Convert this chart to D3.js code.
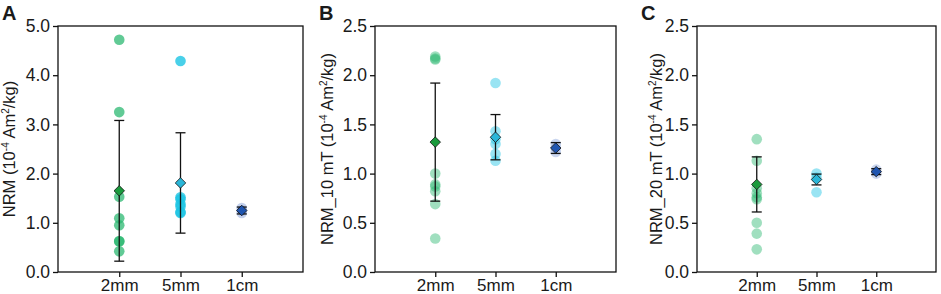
<!DOCTYPE html>
<html>
<head>
<meta charset="utf-8">
<script src="https://cdn.jsdelivr.net/npm/d3@7"></script>
<style>
  body { margin: 0; background: #fff; }
  text { font-family: "Liberation Sans", Arial, sans-serif; fill: #1a1a1a; }
</style>
</head>
<body>
<svg id="chart" width="941" height="294"></svg>
<script>
// categories (sample size)
var categories = ["2mm", "5mm", "1cm"];

// panel A : NRM
var nrm2mm = [4.72, 3.25, 1.53, 1.09, 0.95, 0.63, 0.62, 0.42];
var nrm5mm = [4.29, 1.52, 1.48, 1.38, 1.33, 1.22, 1.20];
var nrm1cm = [1.30, 1.25, 1.20];
var nrmMean = [1.65, 1.81, 1.25];
var nrmErr = [1.43, 1.02, 0.07];

// panel B : NRM after 10 mT
var b2mm = [2.19, 2.16, 2.17, 1.00, 0.89, 0.87, 0.82, 0.69, 0.34];
var b5mm = [1.92, 1.43, 1.35, 1.30, 1.20, 1.13];
var b1cm = [1.30, 1.26, 1.22];
var bMean = [1.32, 1.37, 1.26];
var bErr = [0.60, 0.23, 0.055];

// panel C : NRM after 20 mT
var c2mm = [1.35, 1.13, 0.85, 0.80, 0.76, 0.74, 0.50, 0.39, 0.23];
var c5mm = [1.00, 0.96, 0.81];
var c1cm = [1.04, 1.00];
var cMean = [0.89, 0.94, 1.02];
var cErr = [0.28, 0.055, 0.03];

var yTicksA = [0, 1, 2, 3, 4, 5];
var yTicksBC = [0, 0.5, 1.0, 1.5, 2.0, 2.5];

var pointColors = ["#2cb872", "#1cc4e4", "#8aa4dc"];
var meanColors = ["#1a9a3c", "#2ab6d8", "#1f55b0"];

var svg = d3.select("#chart");
var plotTop = 26, plotBottom = 272;

var panels = [
    { letter: "A", left: 58, right: 303, max: 5, ticks: yTicksA, pts: [nrm2mm, nrm5mm, nrm1cm], mean: nrmMean, err: nrmErr,
      title: "NRM", titleX: 15, alpha: [0.75, 0.8, 0.5] },
    { letter: "B", left: 375, right: 616, max: 2.5, ticks: yTicksBC, pts: [b2mm, b5mm, b1cm], mean: bMean, err: bErr,
      title: "NRM_10 mT", titleX: 333, alpha: [0.45, 0.45, 0.45] },
    { letter: "C", left: 697, right: 936, max: 2.5, ticks: yTicksBC, pts: [c2mm, c5mm, c1cm], mean: cMean, err: cErr,
      title: "NRM_20 mT", titleX: 662, alpha: [0.45, 0.45, 0.45] }
];

panels.forEach(function(p) {
    var x = d3.scalePoint().domain(categories).range([p.left, p.right]).padding(1);
    var y = d3.scaleLinear().domain([0, p.max]).range([plotBottom, plotTop]);
    var g = svg.append("g");

    // box
    g.append("rect")
        .attr("x", p.left).attr("y", plotTop)
        .attr("width", p.right - p.left).attr("height", plotBottom - plotTop)
        .attr("fill", "none").attr("stroke", "#111").attr("stroke-width", 1.3);

    g.append("g")
        .attr("transform", `translate(${p.left},0)`)
        .call(d3.axisLeft(y).tickValues(p.ticks).tickFormat(d3.format(".1f")).tickSize(5).tickPadding(3))
        .call(a => a.select(".domain").remove())
        .call(a => a.selectAll(".tick line").attr("stroke", "#111").attr("stroke-width", 1.3))
        .call(a => a.selectAll(".tick text").attr("font-size", 17.5).attr("font-family", "Liberation Sans, Arial, sans-serif").attr("fill", "#1a1a1a"));

    g.append("g")
        .attr("transform", `translate(0,${plotBottom})`)
        .call(d3.axisBottom(x).tickSize(5).tickPadding(2))
        .call(a => a.select(".domain").remove())
        .call(a => a.selectAll(".tick line").attr("stroke", "#111").attr("stroke-width", 1.3))
        .call(a => a.selectAll(".tick text").attr("font-size", 17).attr("font-family", "Liberation Sans, Arial, sans-serif").attr("fill", "#1a1a1a"));

    // individual samples
    categories.forEach(function(c, i) {
        g.selectAll(".pt" + i)
            .data(p.pts[i])
            .enter()
            .append("circle")
            .attr("cx", x(c))
            .attr("cy", d => y(d))
            .attr("r", 5.3)
            .attr("fill", pointColors[i])
            .attr("fill-opacity", p.alpha[i]);
    });

    // error bars
    var eb = g.selectAll(".eb")
        .data(categories)
        .enter()
        .append("g")
        .attr("stroke", "#111")
        .attr("stroke-width", 1.3);
    eb.append("line")
        .attr("x1", d => x(d)).attr("x2", d => x(d))
        .attr("y1", (d, i) => y(p.mean[i] + p.err[i]))
        .attr("y2", (d, i) => y(p.mean[i] - p.err[i]));
    eb.append("line")
        .attr("x1", d => x(d) - 5).attr("x2", d => x(d) + 5)
        .attr("y1", (d, i) => y(p.mean[i] + p.err[i]))
        .attr("y2", (d, i) => y(p.mean[i] + p.err[i]));
    eb.append("line")
        .attr("x1", d => x(d) - 5).attr("x2", d => x(d) + 5)
        .attr("y1", (d, i) => y(p.mean[i] - p.err[i]))
        .attr("y2", (d, i) => y(p.mean[i] - p.err[i]));

    // mean markers
    g.selectAll(".mean")
        .data(categories)
        .enter()
        .append("path")
        .attr("d", d3.symbol().type(d3.symbolDiamond2).size(70))
        .attr("transform", (d, i) => `translate(${x(d)},${y(p.mean[i])})`)
        .attr("fill", (d, i) => meanColors[i])
        .attr("stroke", "#111")
        .attr("stroke-width", 0.8);

    // panel letter
    svg.append("text")
        .attr("x", p.left - 56)
        .attr("y", 20)
        .attr("font-size", 20)
        .attr("font-weight", "bold")
        .text(p.letter);

    // y title
    var t = svg.append("text")
        .attr("transform", `translate(${p.titleX},${(plotTop + plotBottom) / 2}) rotate(-90)`)
        .attr("text-anchor", "middle")
        .attr("font-size", 16.5);
    t.append("tspan").text(p.title + " (10");
    t.append("tspan").attr("font-size", 10).attr("dy", -6).text("-4");
    t.append("tspan").attr("dy", 6).text(" Am");
    t.append("tspan").attr("font-size", 10).attr("dy", -6).text("2");
    t.append("tspan").attr("dy", 6).text("/kg)");
});
</script>
</body>
</html>
